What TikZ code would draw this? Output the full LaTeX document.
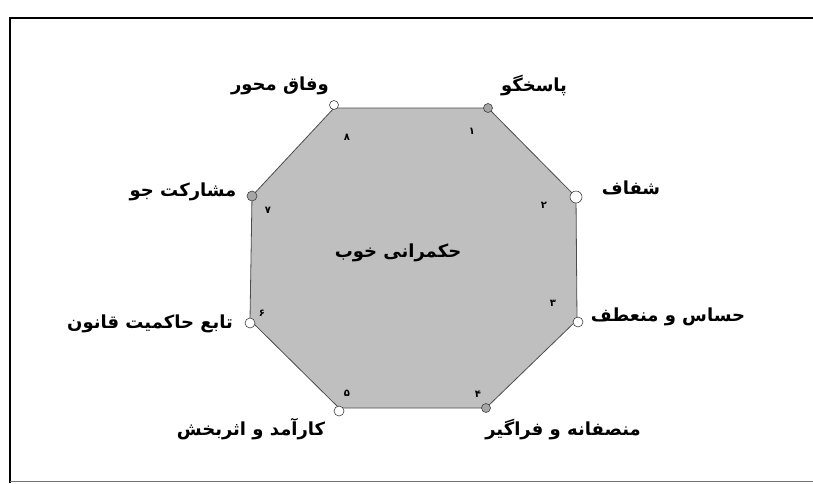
\documentclass[tikz,border=0pt]{standalone}
\usepackage{fontspec}
\usepackage{tikz}
\usetikzlibrary{positioning}
\newfontfamily\arabicfont[Script=Arabic]{DejaVu Sans}
\TeXXeTstate=1

\begin{document}
\begin{tikzpicture}[
    x=1pt, y=-1pt,
    label/.style={
        font=\arabicfont\bfseries\fontsize{18}{21}\selectfont,
        inner sep=1pt
    },
    digit/.style={
        font=\arabicfont\bfseries\fontsize{10}{11}\selectfont,
        inner sep=0pt
    },
    corner/.style={
        circle,
        draw=black!75,
        fill=white,
        line width=0.6pt,
        inner sep=0pt,
        minimum size=9pt
    },
    cornerfill/.style={
        corner,
        fill=black!35
    },
    octagon/.style={
        draw=black!70,
        fill=black!25,
        line width=0.8pt
    }
]

\useasboundingbox (0,0) rectangle (813,483);

% ---------------- FRAME ----------------
\draw[line width=2.5pt] (10,483) -- (10,18) -- (813,18);
\draw[black!55, line width=1pt] (10,481) -- (813,481);

% ---------------- OCTAGON ----------------
\coordinate (v1) at (488,108);
\coordinate (v2) at (576,197);
\coordinate (v3) at (577,320);
\coordinate (v4) at (486,408);
\coordinate (v5) at (339,408);
\coordinate (v6) at (250,320);
\coordinate (v7) at (252,196);
\coordinate (v8) at (334,108);

\draw[octagon] (v1) -- (v2) -- (v3) -- (v4) -- (v5) -- (v6) -- (v7) -- (v8) -- cycle;

\node[label] (center) at (398,253) {\beginR حکمرانی خوب\endR};

% ---------------- CORNERS ----------------
\node[cornerfill] (c1) at (v1) {};
\node[corner, minimum size=12pt] (c2) at (v2) {};
\node[corner, minimum size=10pt] (c3) at (578,322) {};
\node[cornerfill] (c4) at (v4) {};
\node[corner, minimum size=10pt] (c5) at (339,411) {};
\node[corner, minimum size=10pt] (c6) at (250,323) {};
\node[cornerfill, minimum size=10pt] (c7) at (v7) {};
\node[corner] (c8) at (334,105) {};

% ---------------- NUMBERS ----------------
\node[digit] (n1) at (472,131) {۱};
\node[digit] (n2) at (544,205) {۲};
\node[digit] (n3) at (553,303) {۳};
\node[digit] (n4) at (478,394) {۴};
\node[digit] (n5) at (347,393) {۵};
\node[digit] (n6) at (262,313) {۶};
\node[digit] (n7) at (268,210) {۷};
\node[digit] (n8) at (347,137) {۸};

% ---------------- LABELS ----------------
\node[label] (l1) at (534,86) {\beginR پاسخگو\endR};
\node[label] (l2) at (631,188) {\beginR شفاف\endR};
\node[label] (l3) at (668,317) {\beginR حساس و منعطف\endR};
\node[label] (l4) at (563,429) {\beginR منصفانه و فراگیر\endR};
\node[label] (l5) at (251,429) {\beginR کارآمد و اثربخش\endR};
\node[label] (l6) at (150,324) {\beginR تابع حاکمیت قانون\endR};
\node[label] (l7) at (183,192) {\beginR مشارکت جو\endR};
\node[label] (l8) at (280,86) {\beginR وفاق محور\endR};

\end{tikzpicture}
\end{document}
